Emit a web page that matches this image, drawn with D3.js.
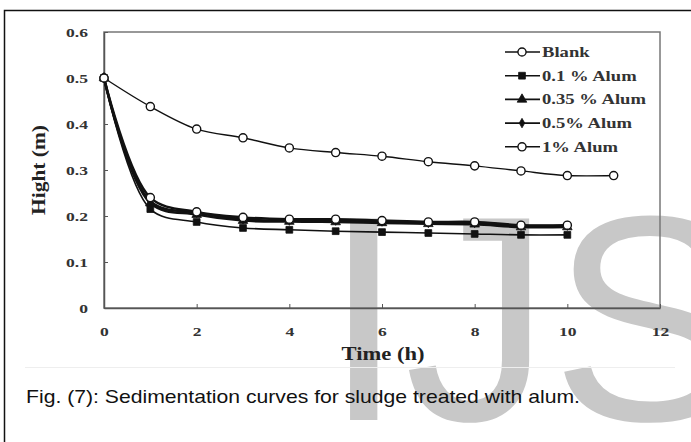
<!DOCTYPE html>
<html lang="en">
<head>
<meta charset="UTF-8">
<title>Sedimentation curves for sludge treated with alum</title>
<script src="https://d3js.org/d3.v7.min.js"></script>
<style>
    body { margin: 0; background: #fff; }
    svg { display: block; }
</style>
</head>
<body>
<svg width="691" height="442"></svg>
<script>
    // values
    const hoursBlank = [0, 1, 2, 3, 4, 5, 6, 7, 8, 9, 10, 11];
    const hoursAlum = [0, 1, 2, 3, 4, 5, 6, 7, 8, 9, 10];
    const blank   = [0.5, 0.438, 0.389, 0.37, 0.348, 0.338, 0.33, 0.318, 0.309, 0.298, 0.288, 0.288];
    const alum01  = [0.5, 0.215, 0.187, 0.174, 0.17, 0.167, 0.165, 0.163, 0.161, 0.159, 0.159];
    const alum035 = [0.5, 0.228, 0.203, 0.19, 0.188, 0.187, 0.185, 0.183, 0.182, 0.176, 0.176];
    const alum05  = [0.5, 0.232, 0.207, 0.193, 0.19, 0.19, 0.188, 0.185, 0.185, 0.179, 0.179];
    const alum1   = [0.5, 0.24, 0.209, 0.197, 0.193, 0.193, 0.19, 0.187, 0.187, 0.18, 0.18];
    const seriesNames = ["Blank", "0.1 % Alum", "0.35 % Alum", "0.5% Alum", "1% Alum"];
    const xTicks = [0, 2, 4, 6, 8, 10, 12];
    const yTicks = [0, 0.1, 0.2, 0.3, 0.4, 0.5, 0.6];

    const series = [
        { name: seriesNames[0], x: hoursBlank, y: blank,   marker: "open",     width: 1.4 },
        { name: seriesNames[1], x: hoursAlum,  y: alum01,  marker: "square",   width: 1.6 },
        { name: seriesNames[2], x: hoursAlum,  y: alum035, marker: "triangle", width: 2.5 },
        { name: seriesNames[3], x: hoursAlum,  y: alum05,  marker: "diamond",  width: 2.5 },
        { name: seriesNames[4], x: hoursAlum,  y: alum1,   marker: "open",     width: 2.5 }
    ];

    var svg = d3.select("svg"),
        plotL = 104, plotT = 32, plotR = 660, plotB = 308,
        SX = 1.35,
        serif = "'Liberation Serif', 'Times New Roman', serif";

    // watermark sits behind everything
    svg.append("text")
        .attr("x", 323).attr("y", 420)
        .style("font-family", "'Liberation Sans', Arial, sans-serif")
        .style("font-size", "293px")
        .attr("fill", "#c8c8c8")
        .text("IJS");

    // outer frame (runs off the right and bottom edges)
    svg.append("rect")
        .attr("x", 4.5).attr("y", 10.5)
        .attr("width", 720).attr("height", 460)
        .attr("fill", "none").attr("stroke", "#111").attr("stroke-width", 1.5);

    var xScale = d3.scaleLinear().domain([0, 12]).range([plotL, plotR]),
        yScale = d3.scaleLinear().domain([0, 0.6]).range([plotB, plotT]);

    // plot border
    svg.append("rect")
        .attr("x", plotL).attr("y", plotT)
        .attr("width", plotR - plotL).attr("height", plotB - plotT)
        .attr("fill", "none").attr("stroke", "#777").attr("stroke-width", 1.5);

    var xAxis = svg.append("g")
        .attr("transform", "translate(0," + plotB + ")")
        .call(d3.axisBottom(xScale).tickValues(xTicks).tickSizeInner(-4).tickSizeOuter(0).tickPadding(19));

    var yAxis = svg.append("g")
        .attr("transform", "translate(" + plotL + ",0)")
        .call(d3.axisLeft(yScale).tickValues(yTicks).tickSizeInner(-4).tickSizeOuter(0).tickPadding(16)
            .tickFormat(d => d === 0 ? "0" : d3.format(".1f")(d)));

    [xAxis, yAxis].forEach(function(ax) {
        ax.select(".domain").attr("stroke", "#555").attr("stroke-width", 1.5);
        ax.selectAll(".tick line").attr("stroke", "#555");
        ax.selectAll(".tick text")
            .style("font-family", serif)
            .style("font-size", "13px")
            .style("font-weight", "bold")
            .attr("fill", "#333");
    });
    xAxis.selectAll(".tick text").attr("transform", "scale(" + SX + ",1)");
    yAxis.selectAll(".tick text").attr("x", -16 / SX).attr("transform", "scale(" + SX + ",1)");

    // axis titles
    svg.append("text")
        .attr("x", 383).attr("y", 360)
        .attr("text-anchor", "middle")
        .attr("textLength", 83).attr("lengthAdjust", "spacingAndGlyphs")
        .style("font-family", serif).style("font-size", "18px").style("font-weight", "bold")
        .attr("fill", "#222")
        .text("Time (h)");

    svg.append("text")
        .attr("transform", "translate(45,170) rotate(-90)")
        .attr("text-anchor", "middle")
        .attr("textLength", 90).attr("lengthAdjust", "spacingAndGlyphs")
        .style("font-family", serif).style("font-size", "18px").style("font-weight", "bold")
        .attr("fill", "#222")
        .text("Hight (m)");

    function marker(g, type, x, y) {
        var sym;
        if (type === "open") sym = d3.symbol(d3.symbolCircle, 52);
        else if (type === "square") sym = d3.symbol(d3.symbolSquare, 46);
        else if (type === "triangle") sym = d3.symbol(d3.symbolTriangle, 40);
        else sym = d3.symbol(d3.symbolDiamond, 26);
        g.append("path")
            .attr("d", sym())
            .attr("transform", "translate(" + x + "," + y + ")")
            .attr("fill", type === "open" ? "#fff" : "#111")
            .attr("stroke", "#111")
            .attr("stroke-width", type === "open" ? 1.4 : 0.8);
    }

    var line = d3.line()
        .x(d => xScale(d[0]))
        .y(d => yScale(d[1]))
        .curve(d3.curveCatmullRom.alpha(0.5));

    var lines = svg.append("g");
    series.forEach(function(s) {
        var pts = s.x.map((h, i) => [h, s.y[i]]);
        lines.append("path")
            .attr("d", line(pts))
            .attr("fill", "none")
            .attr("stroke", "#111")
            .attr("stroke-width", s.width);
    });

    var marks = svg.append("g");
    series.forEach(function(s) {
        s.x.forEach((h, i) => marker(marks, s.marker, xScale(h), yScale(s.y[i])));
    });

    // legend
    var legend = svg.append("g");
    series.forEach(function(s, i) {
        var cy = 52 + i * 23.7;
        legend.append("line")
            .attr("x1", 505).attr("x2", 540)
            .attr("y1", cy).attr("y2", cy)
            .attr("stroke", "#111").attr("stroke-width", 1.6);
        marker(legend, s.marker, 522, cy);
        legend.append("text")
            .attr("transform", "translate(542," + (cy + 5) + ") scale(1.33,1)")
            .style("font-family", serif).style("font-size", "14px").style("font-weight", "bold")
            .attr("fill", "#333")
            .text(s.name);
    });

    // faint rule and caption below the chart
    svg.append("line")
        .attr("x1", 25).attr("x2", 675)
        .attr("y1", 367.5).attr("y2", 367.5)
        .attr("stroke", "#eee").attr("stroke-width", 1);

    svg.append("text")
        .attr("x", 26).attr("y", 403)
        .attr("textLength", 554).attr("lengthAdjust", "spacingAndGlyphs")
        .style("font-family", "'Liberation Sans', Arial, sans-serif")
        .style("font-size", "19px")
        .attr("fill", "#111")
        .text("Fig. (7): Sedimentation curves for sludge treated with alum.");
</script>
</body>
</html>
